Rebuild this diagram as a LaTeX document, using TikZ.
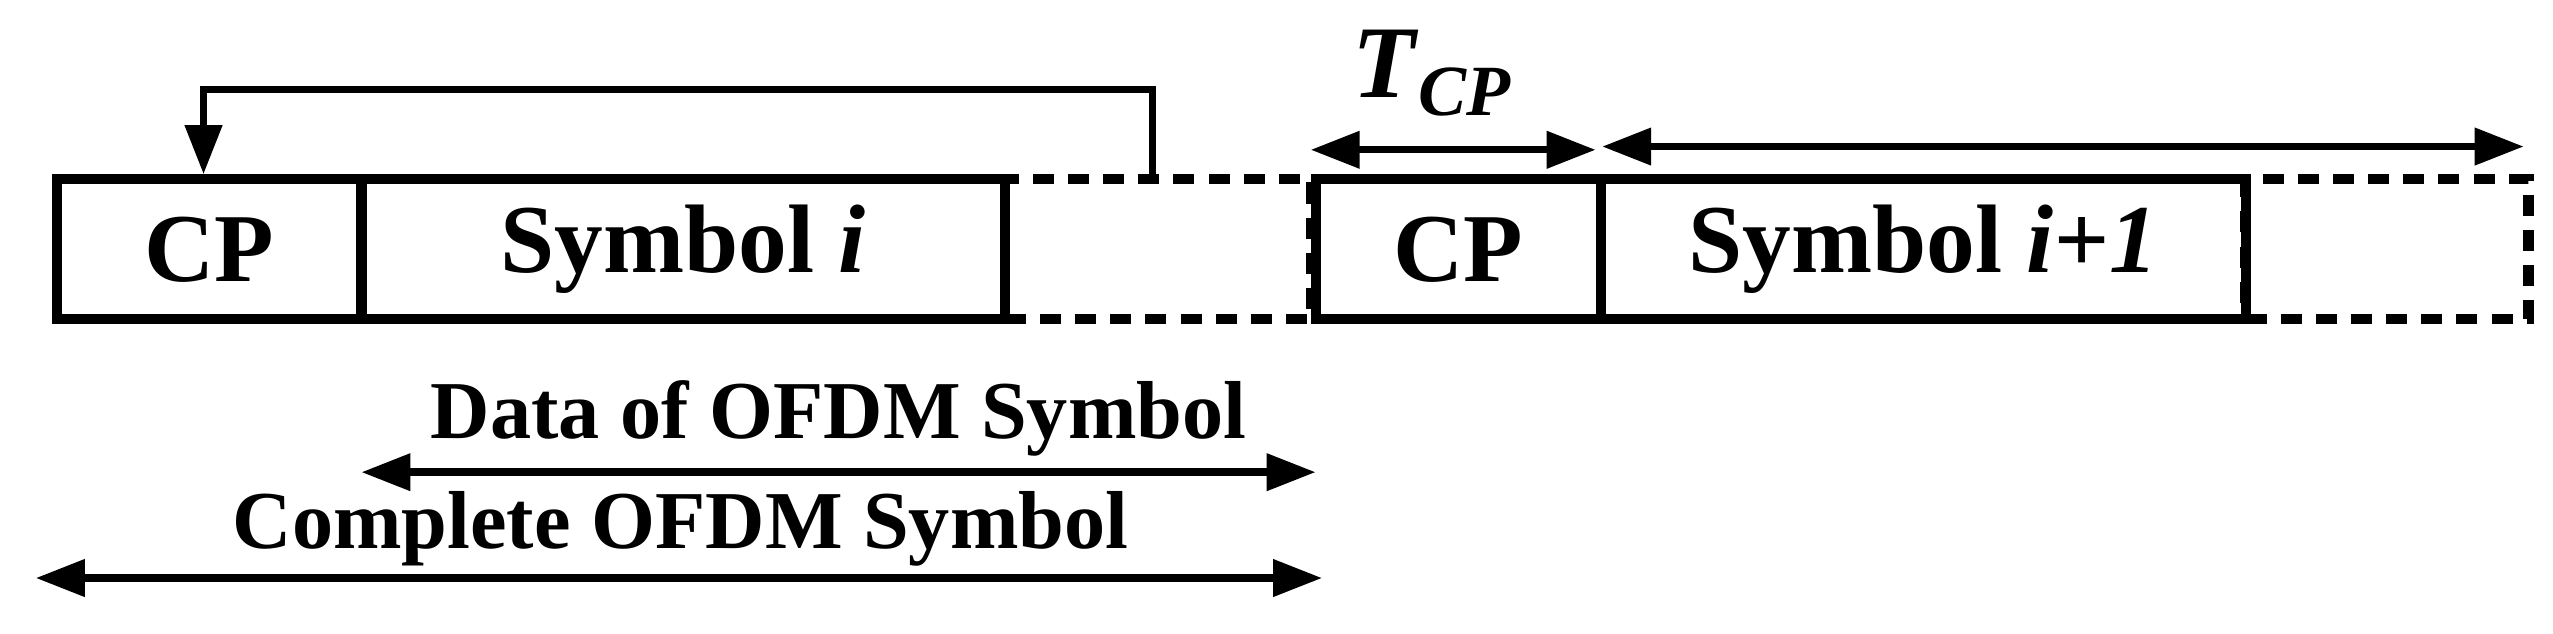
\documentclass[tikz,border=0pt]{standalone}
\usepackage{fontspec}
\setmainfont{Liberation Serif}
\usetikzlibrary{arrows.meta}
\begin{document}
\begin{tikzpicture}[x=0.01628cm,y=-0.01628cm,
  box/.style={draw,line width=2.9pt,minimum height=1.4cm,minimum width=#1,inner sep=0pt,font=\fontsize{27.7}{32}\selectfont\bfseries},
  dbox/.style={draw,dashed,dash pattern=on 6pt off 4pt,line width=2.9pt,minimum height=1.4cm,minimum width=#1,inner sep=0pt},
  arr/.style={line width=2.1pt,-{Triangle[length=0.49cm,width=0.36cm]}},
  darr/.style={line width=2.1pt,{Triangle[length=0.49cm,width=0.36cm]}-{Triangle[length=0.49cm,width=0.36cm]}},
  lbl/.style={font=\fontsize{23.4}{28}\selectfont\bfseries}]
\useasboundingbox (0,0) rectangle (1568,389);
\node[box=3.04cm,anchor=north west] (cp1) at (32,107) {CP};
\node[box=6.43cm,anchor=north west] (s1) at (219,107) {Symbol \textit{i}};
\node[dbox=3.06cm,anchor=north west] (d1) at (614,107) {};
\node[box=2.85cm,anchor=north west] (cp2) at (805,107) {CP};
\node[box=6.45cm,anchor=north west] (s2) at (980,107) {Symbol \textit{i+1}};
\node[dbox=2.83cm,anchor=north west] (d2) at (1376,107) {};
\coordinate (fb) at (708,107);
\coordinate (fe) at (125,107);
\draw[arr] (fb) -- (708,55) -- (125,55) -- (fe);
\coordinate (t1) at (805,92); \coordinate (t2) at (980,92);
\draw[darr] (t1) -- (t2);
\node[font=\fontsize{29.3}{34}\selectfont\bfseries] (tcp) at (880,45) {\textit{T}\textsubscript{\textit{CP}}};
\coordinate (b1) at (984,90); \coordinate (b2) at (1550,90);
\draw[darr] (b1) -- (b2);
\coordinate (da1) at (222,290); \coordinate (da2) at (808,290);
\draw[darr] (da1) -- (da2);
\node[lbl] (dl) at (515,257) {Data of OFDM Symbol};
\coordinate (c1) at (22,355); \coordinate (c2) at (812,355);
\draw[darr] (c1) -- (c2);
\node[lbl] (cl) at (418,325) {Complete OFDM Symbol};
\end{tikzpicture}
\end{document}
